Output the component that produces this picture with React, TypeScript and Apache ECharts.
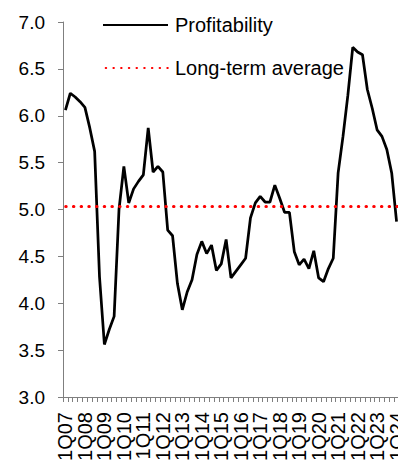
import React, { useEffect, useRef } from "react";
import * as echarts from "echarts";

const years = [7, 8, 9, 10, 11, 12, 13, 14, 15, 16, 17, 18, 19, 20, 21, 22, 23, 24];
const quarters = ["1Q", "2Q", "3Q", "4Q"];
const categories: string[] = [];
years.forEach((y) => {
  quarters.forEach((q) => {
    const label = q + String(y).padStart(2, "0");
    if (categories.length < 69) categories.push(label);
  });
});

const profitability = [
  6.06, 6.24, 6.2, 6.15, 6.09, 5.87, 5.62, 4.28, 3.56, 3.72,
  3.86, 5.0, 5.46, 5.07, 5.22, 5.3, 5.37, 5.87, 5.4, 5.46,
  5.4, 4.78, 4.72, 4.21, 3.93, 4.12, 4.25, 4.52, 4.66, 4.53,
  4.62, 4.35, 4.42, 4.68, 4.27, 4.34, 4.41, 4.48, 4.91, 5.07,
  5.14, 5.08, 5.08, 5.26, 5.12, 4.97, 4.97, 4.55, 4.41, 4.47,
  4.37, 4.56, 4.27, 4.23, 4.37, 4.48, 5.39, 5.78, 6.22, 6.73,
  6.68, 6.65, 6.28, 6.08, 5.85, 5.78, 5.64, 5.39, 4.87,
];
const longTermAverage = 5.04;

const FONT = "'Liberation Sans', Arial, sans-serif";
const AXIS_COLOR = "#7f7f7f";

export default function App() {
  const ref = useRef<HTMLDivElement>(null);
  useEffect(() => {
    if (!ref.current) return;
    const chart = echarts.init(ref.current, null, { renderer: "svg" });
    const dotted = {
      color: "#ff0000",
      width: 3,
      type: [0.5, 7.2] as any,
      cap: "round" as any,
      dashOffset: 5,
    };
    chart.setOption({
      animation: false,
      backgroundColor: "#ffffff",
      textStyle: { fontFamily: FONT },
      grid: {
        left: 63,
        right: -1,
        top: 22,
        bottom: 64,
        containLabel: false,
        outerBoundsMode: "none",
      },
      legend: {
        orient: "vertical",
        left: 102,
        top: 15,
        padding: 0,
        itemWidth: 65,
        itemHeight: 20,
        itemGap: 23,
        itemStyle: { opacity: 0 },
        textStyle: { fontSize: 20, color: "#000", fontFamily: FONT, padding: [0, 0, 0, 2] },
        data: ["Profitability", "Long-term average"],
      },
      xAxis: {
        type: "category",
        data: categories,
        boundaryGap: true,
        axisLine: { show: true, lineStyle: { color: AXIS_COLOR, width: 1 } },
        axisTick: { show: true, interval: 0, length: 5, lineStyle: { color: AXIS_COLOR } },
        axisLabel: {
          interval: 0,
          rotate: 90,
          margin: 15,
          fontSize: 20,
          color: "#000",
          fontFamily: FONT,
          hideOverlap: false,
          formatter: (v: string) => (v.startsWith("1Q") ? v : ""),
        },
        splitLine: { show: false },
      },
      yAxis: {
        type: "value",
        min: 3,
        max: 7,
        interval: 0.5,
        axisLine: { show: true, lineStyle: { color: AXIS_COLOR, width: 1 } },
        axisTick: { show: true, length: 5, lineStyle: { color: AXIS_COLOR } },
        axisLabel: {
          margin: 18,
          fontSize: 19,
          color: "#000",
          fontFamily: FONT,
          formatter: (v: number) => v.toFixed(1),
        },
        splitLine: { show: false },
      },
      series: [
        {
          name: "Profitability",
          type: "line",
          data: profitability,
          symbol: "none",
          lineStyle: { color: "#000", width: 2.75 },
          itemStyle: { color: "#000" },
          z: 3,
        },
        {
          name: "Long-term average",
          type: "line",
          data: [],
          symbol: "none",
          lineStyle: dotted,
          itemStyle: { color: "#ff0000" },
          markLine: {
            silent: true,
            symbol: "none",
            label: { show: false },
            lineStyle: dotted,
            data: [{ yAxis: longTermAverage }],
          },
          z: 2,
        },
      ],
    });
    return () => chart.dispose();
  }, []);
  return (
    <div
      ref={ref}
      style={{ position: "fixed", left: 0, top: 0, width: 398, height: 461, background: "#fff" }}
    />
  );
}
